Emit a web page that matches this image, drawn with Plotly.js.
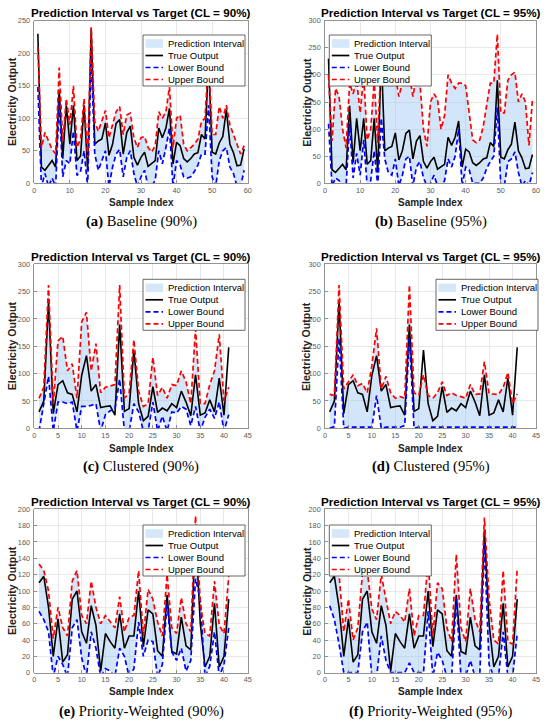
<!DOCTYPE html>
<html>
<head>
<meta charset="utf-8">
<script src="https://cdn.plot.ly/plotly-3.0.1.min.js"></script>
<style>html,body{margin:0;padding:0;background:#fff}#chart{width:550px;height:723px}</style>
</head>
<body>
<div id="chart"></div>
<script>
// ---------------- DATA ----------------
const legendLabels = ["Prediction Interval", "True Output", "Lower Bound", "Upper Bound"];
const captionLabels = ["Baseline (90%)", "Baseline (95%)", "Clustered (90%)", "Clustered (95%)", "Priority-Weighted (90%)", "Priority-Weighted (95%)"];
const captionTags = ["(a)", "(b)", "(c)", "(d)", "(e)", "(f)"];
const confidenceLevels = ["90%", "95%", "90%", "95%", "90%", "95%"];

const baseTrue = [230,25,20,28,35,25,143,38,120,60, 120,35,42,120,20,238,60,65,68,93, 43,60,92,98,45,78,88,40,28,40, 48,26,30,35,85,70,85,115,30,63, 58,38,33,38,45,47,75,68,190,48, 45,62,72,113,60,47,27,28,53];
const base90Lo = [148,-5,15,-5,8,-5,125,10,35,30, 80,12,18,50,-5,195,45,20,35,50, -5,25,45,52,10,40,50,15,-5,10, 20,-5,-5,5,50,30,55,85,-5,35, 28,10,8,10,18,28,45,45,120,10, -5,35,50,55,25,15,-5,-5,20];
const base90Up = [210,55,78,65,52,45,178,65,130,90, 150,55,68,130,40,240,95,80,95,112, 70,90,110,118,75,105,108,70,55,70, 72,55,48,58,110,100,110,148,55,100, 105,60,50,55,60,68,95,100,195,75, 75,118,100,120,90,75,60,45,58];
const base95Lo = [110,-5,10,5,-5,-5,110,10,55,15, 80,-5,5,60,-5,120,45,20,15,45, -5,15,45,50,-5,30,40,10,-5,0, 15,-5,-5,5,45,30,50,100,-5,30, 25,0,0,0,10,28,40,50,140,-5, -5,40,45,58,20,-5,5,-5,20];
const base95Up = [200,78,175,160,100,65,185,165,190,130, 200,80,100,190,75,245,200,180,190,200, 160,185,200,200,160,200,185,100,68,150, 165,155,100,125,200,185,175,185,185,180, 130,80,75,80,105,145,185,185,275,130, 130,190,200,205,150,165,150,70,155];

const clusTrue = [30,50,232,27,80,87,65,62,30,97, 133,68,80,38,40,41,24,190,31,36, 143,45,14,22,76,29,37,32,45,38, 68,48,23,98,24,28,52,30,92,24, 148];
const clus90Lo = [-5,45,95,-5,48,48,45,48,-5,40, 40,42,45,-5,25,32,35,90,-5,-5, 45,30,-5,-5,48,-5,22,-5,30,28, 40,35,5,40,-5,20,35,18,48,-5, 25];
const clus90Up = [55,75,262,45,160,168,105,118,55,195, 212,105,155,65,75,78,80,262,55,65, 162,68,40,45,130,60,75,55,80,78, 105,85,45,182,45,45,80,105,172,50, 75];
const clus95Lo = [0,3,165,0,2,2,2,2,2,2, 60,0,2,2,2,2,5,165,0,2, 2,2,2,2,2,2,2,2,2,2, 2,2,2,2,2,2,3,2,2,2, 2];
const clus95Up = [62,60,262,72,85,98,78,82,65,115, 183,72,95,65,55,58,55,262,65,60, 98,60,55,65,85,60,65,60,58,55, 80,62,63,122,63,62,62,75,102,45, 63];

const prioTrue = [110,118,80,20,66,13,22,90,100,50, 36,82,58,2,48,38,30,72,30,45, 45,100,32,77,72,27,20,95,26,23, 68,33,28,175,60,7,20,85,7,20, 90];
const prio90Lo = [75,65,50,-5,20,10,-5,55,65,18, -5,50,30,-5,5,2,-5,30,20,-5, 5,62,20,40,38,-5,10,85,25,15, 30,2,15,115,90,-5,8,50,-5,10, 55];
const prio90Up = [133,125,100,42,80,55,45,112,125,70, 60,112,80,60,70,62,55,93,50,68, 70,125,45,102,90,62,45,120,55,48, 92,60,50,192,85,48,45,112,58,48, 118];
const prio95Lo = [82,65,35,0,0,0,0,50,62,-5, -5,45,15,0,0,0,0,12,0,0, 0,75,-5,25,15,-5,-5,90,-5,-5, 15,-5,-5,158,10,-5,-5,50,-5,-5, 48];
const prio95Up = [130,125,120,50,90,40,55,122,125,78, 65,120,90,60,75,70,62,103,45,70, 70,138,45,110,103,55,38,145,55,38, 103,65,50,190,90,40,35,125,38,35, 128];

const xRanges = [[0,60],[0,60],[0,45],[0,45],[0,45],[0,45]];
const xTickSteps = [10,10,5,5,5,5];
const yRanges = [[0,250],[0,300],[0,300],[0,300],[0,200],[0,200]];
const yTickSteps = [50,50,50,50,20,20];

// ---------------- LAYOUT HELPERS ----------------
const W = 550, H = 723;
const fx = p => p / W;
const fy = p => 1 - p / H;

const panels = [
  {tru: baseTrue, lo: base90Lo, up: base90Up},
  {tru: baseTrue, lo: base95Lo, up: base95Up},
  {tru: clusTrue, lo: clus90Lo, up: clus90Up},
  {tru: clusTrue, lo: clus95Lo, up: clus95Up},
  {tru: prioTrue, lo: prio90Lo, up: prio90Up},
  {tru: prioTrue, lo: prio95Lo, up: prio95Up}
];

// pixel geometry of the six axes boxes
const colX = [[34.3, 247.7], [325, 536]];
const rowY = [[20.7, 183.3], [264.3, 428.3], [509.3, 672.7]];
const titleY = [12.7, 256, 501.7];
const xlabelY = [202, 448, 691.7];
const captionY = [221.7, 466.7, 711.7];
const ylabelX = [12, 306.7];
// legend top-left corners (pixels)
const legendPos = [[143, 35], [329.3, 35], [143, 279.3], [436, 279.3], [143, 525], [329.3, 525]];

const FILL = 'rgba(150,195,240,0.42)';
const DASH = '5px,3px';
const SANS = 'Liberation Sans, Arial, Helvetica, sans-serif';

const traces = [];
const layout = {
  width: W, height: H,
  margin: {l: 0, r: 0, t: 0, b: 0},
  paper_bgcolor: '#fff', plot_bgcolor: '#fff',
  showlegend: false,
  annotations: [], shapes: []
};

panels.forEach((p, i) => {
  const n = i + 1;
  const ax = n === 1 ? '' : String(n);
  const col = i % 2, row = Math.floor(i / 2);
  const xs = p.tru.map((_, k) => k + 1);

  // fill polygon (upper then reversed lower)
  traces.push({
    x: xs.concat(xs.slice().reverse()),
    y: p.up.concat(p.lo.slice().reverse()),
    type: 'scatter', mode: 'lines', fill: 'toself', fillcolor: FILL,
    line: {width: 0, color: 'rgba(0,0,0,0)'}, hoverinfo: 'skip',
    xaxis: 'x' + ax, yaxis: 'y' + ax, name: legendLabels[0]
  });
  traces.push({x: xs, y: p.tru, type: 'scatter', mode: 'lines', line: {color: '#000', width: 1.6},
    xaxis: 'x' + ax, yaxis: 'y' + ax, name: legendLabels[1]});
  traces.push({x: xs, y: p.lo, type: 'scatter', mode: 'lines', line: {color: '#0000ff', width: 1.7, dash: DASH},
    xaxis: 'x' + ax, yaxis: 'y' + ax, name: legendLabels[2]});
  traces.push({x: xs, y: p.up, type: 'scatter', mode: 'lines', line: {color: '#ff0000', width: 1.7, dash: DASH},
    xaxis: 'x' + ax, yaxis: 'y' + ax, name: legendLabels[3]});

  const common = {
    showline: true, mirror: true, linecolor: 'rgb(120,120,120)', linewidth: 0.8,
    showgrid: true, gridcolor: 'rgb(228,228,228)', gridwidth: 0.8, zeroline: false,
    ticks: 'inside', ticklen: 3, tickcolor: 'rgb(120,120,120)', tickwidth: 0.8,
    tickfont: {family: SANS, size: 7.3, color: 'rgb(90,90,90)'}, fixedrange: true
  };
  layout['xaxis' + ax] = Object.assign({}, common, {
    domain: [fx(colX[col][0]), fx(colX[col][1])], anchor: 'y' + ax,
    range: xRanges[i], dtick: xTickSteps[i], tick0: 0
  });
  layout['yaxis' + ax] = Object.assign({}, common, {
    domain: [fy(rowY[row][1]), fy(rowY[row][0])], anchor: 'x' + ax,
    range: yRanges[i], dtick: yTickSteps[i], tick0: 0, ticklabelstandoff: 2
  });

  const cx = fx((colX[col][0] + colX[col][1]) / 2);
  layout.annotations.push({
    text: '<b>Prediction Interval vs Target (CL = ' + confidenceLevels[i] + ')</b>',
    xref: 'paper', yref: 'paper', x: cx, y: fy(titleY[row]), xanchor: 'center', yanchor: 'middle',
    showarrow: false, font: {family: SANS, size: 11.7, color: '#000'}
  });
  layout.annotations.push({
    text: '<b>Sample Index</b>', xref: 'paper', yref: 'paper', x: cx, y: fy(xlabelY[row]),
    xanchor: 'center', yanchor: 'middle', showarrow: false, font: {family: SANS, size: 10, color: '#222'}
  });
  layout.annotations.push({
    text: '<b>Electricity Output</b>', xref: 'paper', yref: 'paper', x: fx(ylabelX[col]),
    y: fy((rowY[row][0] + rowY[row][1]) / 2), textangle: -90,
    xanchor: 'center', yanchor: 'middle', showarrow: false, font: {family: SANS, size: 10.6, color: '#222'}
  });
  layout.annotations.push({
    text: '<b>' + captionTags[i] + '</b> ' + captionLabels[i], xref: 'paper', yref: 'paper', x: cx,
    y: fy(captionY[row]), xanchor: 'center', yanchor: 'middle', showarrow: false,
    font: {family: 'Liberation Serif, Times New Roman, serif', size: 14.6, color: '#000'}
  });

  // legend box
  const [lx, ly] = legendPos[i];
  const lw = 102, lh = 51;
  layout.shapes.push({type: 'rect', xref: 'paper', yref: 'paper', layer: 'above',
    x0: fx(lx), x1: fx(lx + lw), y0: fy(ly + lh), y1: fy(ly),
    fillcolor: '#fff', line: {color: 'rgb(40,40,40)', width: 0.7}});
  const rows = [8.5, 20.5, 32.5, 44.5];
  layout.shapes.push({type: 'rect', xref: 'paper', yref: 'paper', layer: 'above',
    x0: fx(lx + 2.5), x1: fx(lx + 20), y0: fy(ly + rows[0] + 4.3), y1: fy(ly + rows[0] - 4.3),
    fillcolor: 'rgb(213,231,249)', line: {width: 0}});
  const keyStyles = [{color: '#000', dash: 'solid'}, {color: '#0000ff', dash: DASH}, {color: '#ff0000', dash: DASH}];
  keyStyles.forEach((s, k) => {
    layout.shapes.push({type: 'line', xref: 'paper', yref: 'paper', layer: 'above',
      x0: fx(lx + 2.5), x1: fx(lx + 20), y0: fy(ly + rows[k + 1]), y1: fy(ly + rows[k + 1]),
      line: {color: s.color, width: 1.7, dash: s.dash}});
  });
  legendLabels.forEach((lab, k) => {
    layout.annotations.push({text: lab, xref: 'paper', yref: 'paper', x: fx(lx + 22.5), y: fy(ly + rows[k]),
      xanchor: 'left', yanchor: 'middle', showarrow: false, font: {family: SANS, size: 9.5, color: '#000'}});
  });
});

Plotly.newPlot('chart', traces, layout, {displayModeBar: false, staticPlot: true});
</script>
</body>
</html>
